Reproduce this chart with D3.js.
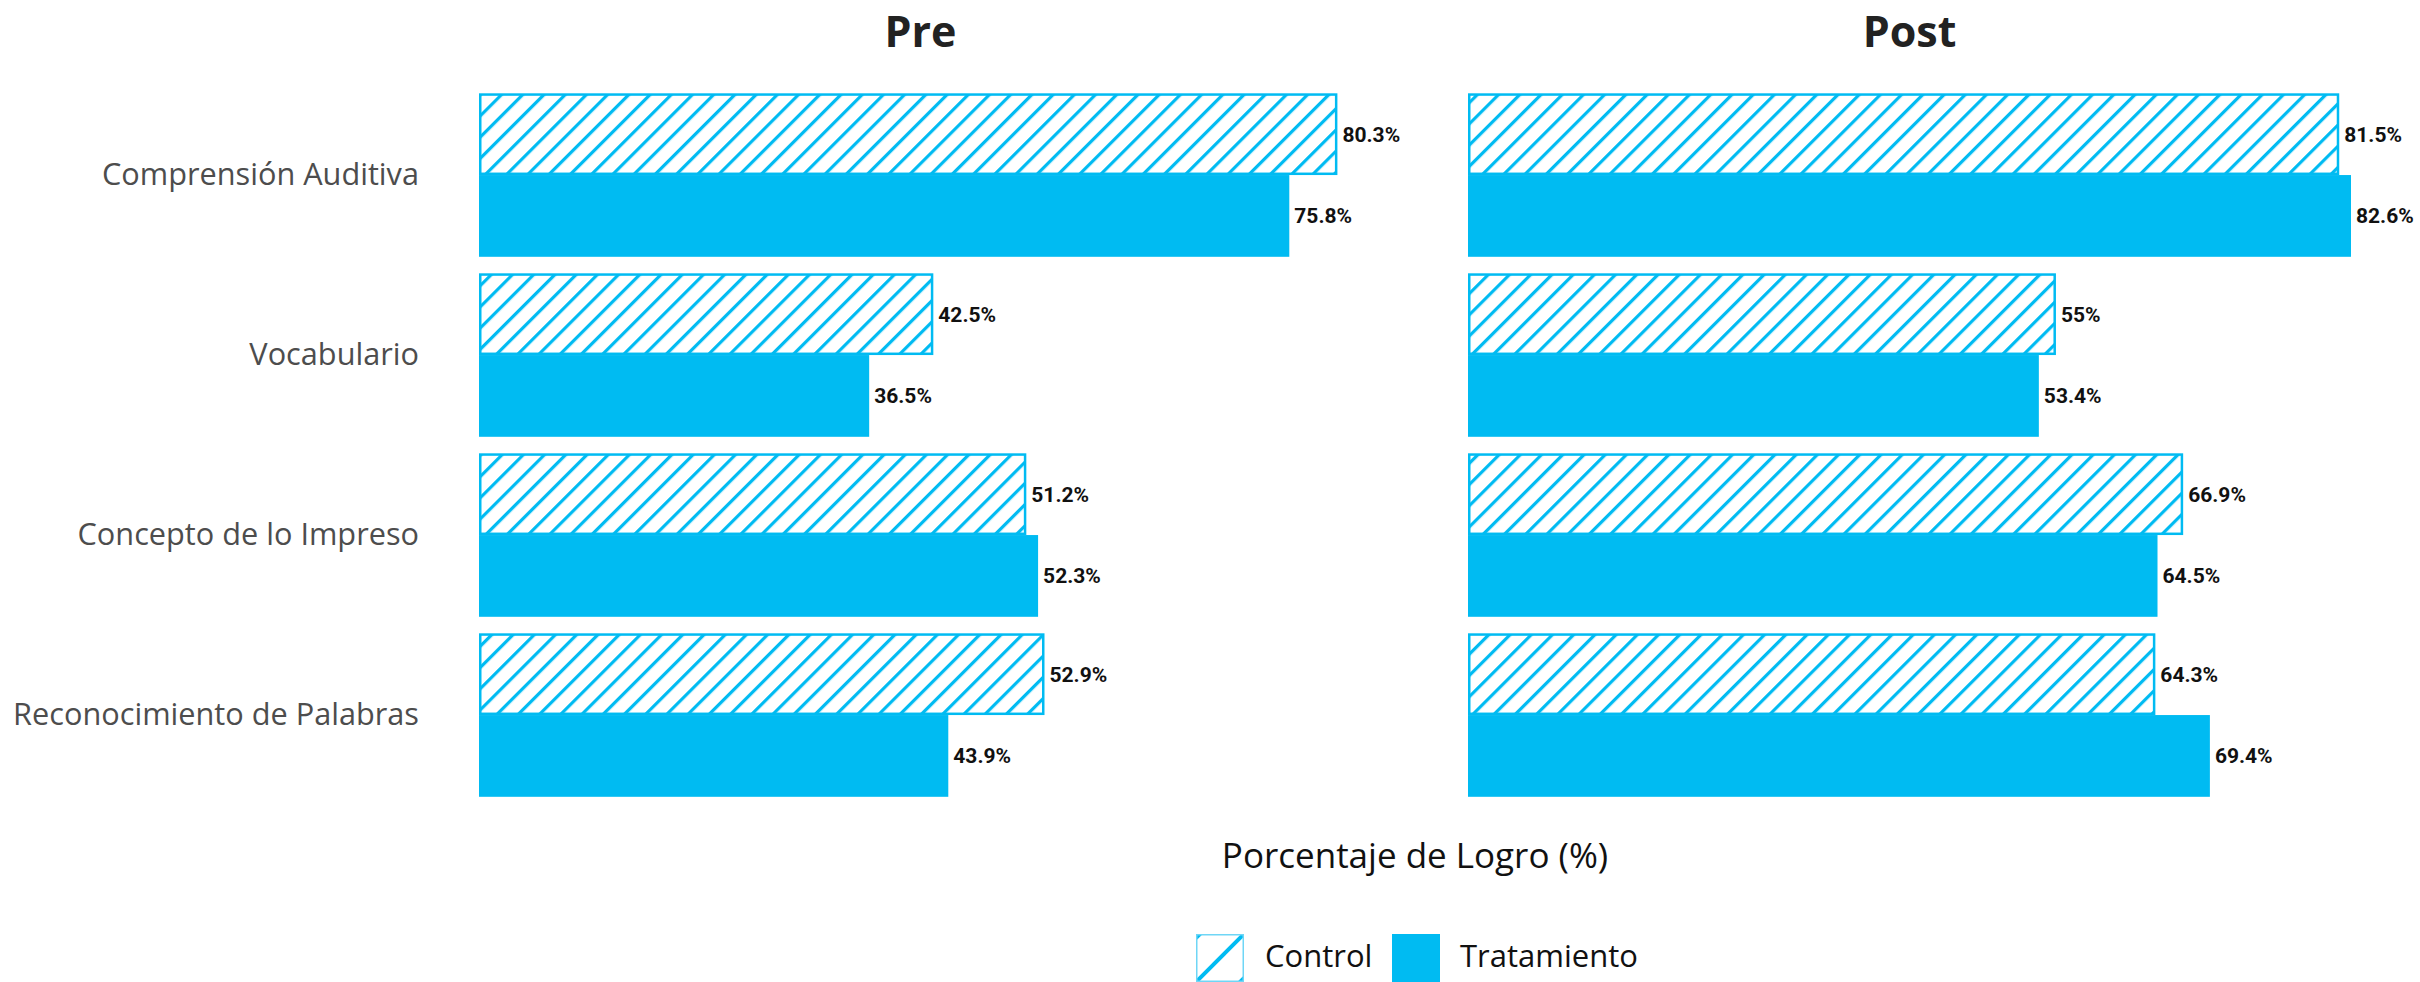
<!DOCTYPE html>
<html>
<head>
<meta charset="utf-8">
<script src="https://cdn.jsdelivr.net/npm/d3@7"></script>
<style>
  html, body { margin: 0; padding: 0; background: #ffffff; }
  svg { display: block; }
</style>
</head>
<body>
<svg id="chart" width="2420" height="982"></svg>
<script>
// ---- data ----
const categories = ["Comprensión Auditiva", "Vocabulario", "Concepto de lo Impreso", "Reconocimiento de Palabras"];
const groups = ["Control", "Tratamiento"];
const panels = ["Pre", "Post"];
const preControl = [80.3, 42.5, 51.2, 52.9];
const preTratamiento = [75.8, 36.5, 52.3, 43.9];
const postControl = [81.5, 55, 66.9, 64.3];
const postTratamiento = [82.6, 53.4, 64.5, 69.4];
const axisTitle = "Porcentaje de Logro (%)";

// ---- styles ----
const blue = "#00BBF2";
const keyBorder = "#6fd6f6";
const labelFont = "'Open Sans', 'Noto Sans', sans-serif";

const svg = d3.select("#chart");
const defs = svg.append("defs");

// hatch pattern
const pat = defs.append("pattern")
  .attr("id", "hatch")
  .attr("patternUnits", "userSpaceOnUse")
  .attr("width", 15).attr("height", 15)
  .attr("patternTransform", "rotate(45)");
pat.append("rect").attr("width", 15).attr("height", 15).attr("fill", "#ffffff");
pat.append("line").attr("x1", 1.6).attr("y1", 0).attr("x2", 1.6).attr("y2", 15)
  .attr("stroke", blue).attr("stroke-width", 3.2);

const panelData = {
  Pre: { Control: preControl, Tratamiento: preTratamiento },
  Post: { Control: postControl, Tratamiento: postTratamiento }
};

const xMax = d3.max([...preControl, ...preTratamiento, ...postControl, ...postTratamiento]);
const panelStarts = { Pre: 479, Post: 1468 };
const pxPerUnit = 10.69;

const y = d3.scaleBand().domain(categories).range([93.3, 796.8]).paddingInner(0.0917).paddingOuter(0);
const ySub = d3.scaleBand().domain(groups).range([0, y.bandwidth()]).padding(0);

panels.forEach(p => {
  const x0 = panelStarts[p];
  const x = d3.scaleLinear().domain([0, xMax]).range([x0, x0 + xMax * pxPerUnit]);
  const g = svg.append("g");

  // panel title
  g.append("text")
    .attr("x", (x.range()[0] + x.range()[1]) / 2)
    .attr("y", 47)
    .attr("text-anchor", "middle")
    .attr("font-family", labelFont)
    .attr("font-weight", 700)
    .attr("font-size", 43)
    .attr("fill", "#222222")
    .text(p);

  categories.forEach((c, i) => {
    groups.forEach(gr => {
      const v = panelData[p][gr][i];
      const yy = y(c) + ySub(gr);
      const h = ySub.bandwidth();
      if (gr === "Control") {
        g.append("rect")
          .attr("x", x(0) + 1.25).attr("y", yy + 1.25)
          .attr("width", x(v) - x(0) - 2.5).attr("height", h - 2.5)
          .attr("fill", "url(#hatch)")
          .attr("stroke", blue).attr("stroke-width", 2.5);
      } else {
        g.append("rect")
          .attr("x", x(0)).attr("y", yy)
          .attr("width", x(v) - x(0)).attr("height", h)
          .attr("fill", blue);
      }
      g.append("text")
        .attr("x", x(v) + 5)
        .attr("y", yy + h / 2)
        .attr("dy", "0.35em")
        .attr("font-family", "Roboto, 'Liberation Sans', sans-serif")
        .attr("font-weight", 700)
        .attr("font-size", 21)
        .attr("fill", "#111111")
        .text(v + "%");
    });
  });

  if (p === "Pre") {
    const ax = g.append("g")
      .attr("transform", `translate(${x0},0)`)
      .call(d3.axisLeft(y).tickSize(0).tickPadding(60));
    ax.select(".domain").remove();
    ax.selectAll("text")
      .attr("font-family", labelFont)
      .attr("font-size", 30.7)
      .attr("fill", "#4d4d4d");
  }
});

// axis title
const centerX = (panelStarts.Pre + panelStarts.Post + xMax * pxPerUnit) / 2;
svg.append("text")
  .attr("x", centerX).attr("y", 868)
  .attr("text-anchor", "middle")
  .attr("font-family", labelFont)
  .attr("font-size", 35)
  .attr("fill", "#111111")
  .text(axisTitle);

// legend
const lg = svg.append("g").attr("transform", "translate(1196,934)");
const ks = 48;
// Control key
const clip = defs.append("clipPath").attr("id", "keyclip");
clip.append("rect").attr("width", ks).attr("height", ks);
const k1 = lg.append("g");
k1.append("rect").attr("width", ks).attr("height", ks).attr("fill", "#ffffff");
const kl = k1.append("g").attr("clip-path", "url(#keyclip)");
[0, -44, 44].forEach(o => {
  kl.append("line")
    .attr("x1", -10 + o / 2).attr("y1", ks + 10 + o / 2)
    .attr("x2", ks + 10 + o / 2).attr("y2", -10 + o / 2)
    .attr("stroke", blue).attr("stroke-width", 4);
});
k1.append("rect").attr("x", 0.75).attr("y", 0.75).attr("width", ks - 1.5).attr("height", ks - 1.5)
  .attr("fill", "none").attr("stroke", keyBorder).attr("stroke-width", 1.5);
lg.append("text").attr("x", 69).attr("y", 33)
  .attr("font-family", labelFont).attr("font-size", 31).attr("fill", "#111111")
  .text(groups[0]);
// Tratamiento key
lg.append("rect").attr("x", 196).attr("y", 0).attr("width", ks).attr("height", ks).attr("fill", blue);
lg.append("text").attr("x", 264).attr("y", 33)
  .attr("font-family", labelFont).attr("font-size", 31).attr("fill", "#111111")
  .text(groups[1]);
</script>
</body>
</html>
